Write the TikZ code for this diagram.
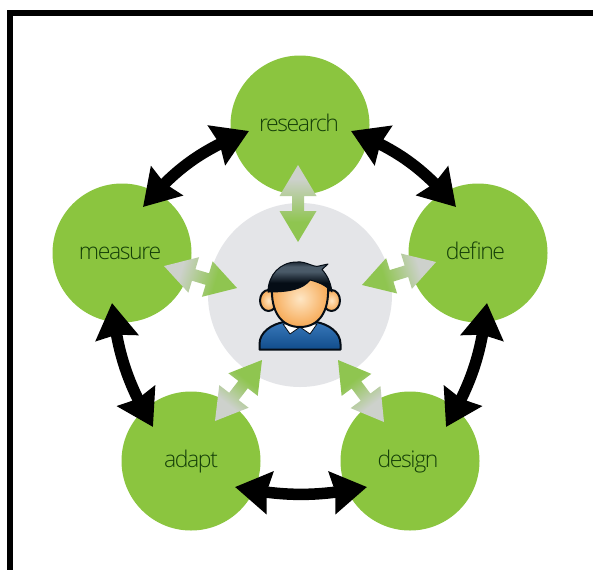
\documentclass[tikz,border=0pt]{standalone}
\usepackage{fontspec}
\setmainfont[UprightFont=* Light,LetterSpace=-6]{Open Sans}
\usetikzlibrary{arrows.meta,calc,bending}
\definecolor{leaf}{HTML}{8BC53F}
\definecolor{hub}{HTML}{E4E5E8}
\definecolor{ink}{HTML}{143F08}
\definecolor{pale}{HTML}{CDD1CC}
\definecolor{mid}{HTML}{8FC550}
\definecolor{skin}{HTML}{F6A955}
\definecolor{skinl}{HTML}{FEE6C4}
\definecolor{navy}{HTML}{050D16}
\definecolor{hairl}{HTML}{4A5A68}
\definecolor{shirt}{HTML}{1560AE}
\pgfdeclarehorizontalshading{palegreen}{100bp}{color(0bp)=(pale); color(34bp)=(pale); color(62bp)=(mid); color(100bp)=(mid)}
\pgfdeclareverticalshading{hairshade}{100bp}{color(0bp)=(navy); color(40bp)=(navy); color(58bp)=(hairl); color(66bp)=(hairl); color(78bp)=(navy); color(100bp)=(navy)}
\tikzset{
  stage/.style={circle,fill=leaf,minimum size=139pt,inner sep=0pt,text=ink,text height=16pt,text depth=3pt,font=\fontsize{23}{23}\selectfont},
  blackarrow/.style={line width=11.5pt,black,{Stealth[length=35pt,width=42pt,inset=3pt,flex]}-{Stealth[length=35pt,width=42pt,inset=3pt,flex]}},
  outline/.style={draw=navy,line width=2pt,line join=round}
}
% #1 outer tip, #2 inner tip, #3 shading direction
\newcommand{\palearrow}[3]{%
  \shade[shading=palegreen,shading angle=#3]
    (#1)
    -- ($(#1)!31pt!(#2)!18.5pt!90:(#2)$)
    -- ($(#1)!31pt!(#2)!6pt!90:(#2)$)
    -- ($(#2)!31pt!(#1)!6pt!-90:(#1)$)
    -- ($(#2)!31pt!(#1)!18.5pt!-90:(#1)$)
    -- (#2)
    -- ($(#2)!31pt!(#1)!18.5pt!90:(#1)$)
    -- ($(#2)!31pt!(#1)!6pt!90:(#1)$)
    -- ($(#1)!31pt!(#2)!6pt!-90:(#2)$)
    -- ($(#1)!31pt!(#2)!18.5pt!-90:(#2)$)
    -- cycle;}
\begin{document}
\begin{tikzpicture}[x=1pt,y=-1pt]
\useasboundingbox (0,0) rectangle (593,570);
\fill[white] (0,0) rectangle (593,570);
% frame
\fill[black] (7,10) rectangle (593,16);
\fill[black] (7,10) rectangle (12.5,570);
% hub and stages
\node[circle,fill=hub,minimum size=184pt,inner sep=0pt] (hub) at (300,295) {};
\node[stage] (research) at (300,125) {research\kern2pt};
\node[stage] (define) at (478,253) {define\kern5pt};
\node[stage] (design) at (410,461) {design\kern4pt};
\node[stage] (adapt) at (191,461) {adapt};
\node[stage] (measure) at (122,253) {measure\kern4pt};
% black connector ends
\coordinate (rm) at (249,131); \coordinate (mr) at (143,207);
\coordinate (rd) at (351,131); \coordinate (dr) at (456,207);
\coordinate (dg) at (487,303); \coordinate (gd) at (446,427);
\coordinate (ga) at (367,487); \coordinate (ag) at (235,487);
\coordinate (am) at (153,427); \coordinate (ma) at (112,303);
\draw[blackarrow] (rm) to[bend right=14] (mr);
\draw[blackarrow] (rd) to[bend left=14] (dr);
\draw[blackarrow] (dg) to[bend left=12] (gd);
\draw[blackarrow] (ga) to[bend left=11] (ag);
\draw[blackarrow] (am) to[bend left=12] (ma);
% pale connector ends
\coordinate (ro) at (298,165); \coordinate (ri) at (298,242);
\coordinate (mo) at (164,266); \coordinate (mi) at (237,288);
\coordinate (do) at (436,262); \coordinate (di) at (362,285);
\coordinate (go) at (384,422); \coordinate (gi) at (338,360);
\coordinate (ao) at (215,421); \coordinate (ai) at (262,360);
\palearrow{ro}{ri}{-90}
\palearrow{mo}{mi}{-17}
\palearrow{do}{di}{197}
\palearrow{go}{gi}{127}
\palearrow{ao}{ai}{52}
% person: shoulders
\draw[outline,top color=shirt!85!white,bottom color=shirt!80!black]
  (259.5,349.5) -- (259.5,344)
  .. controls (259.5,332) and (272,324) .. (284,322)
  -- (316,322)
  .. controls (328,324) and (340.5,332) .. (340.5,344)
  -- (340.5,349.5) -- cycle;
\draw[navy,line width=.8pt,fill=white,line join=round] (283,324) -- (290,334) -- (300,327) -- (310,334) -- (317,324) -- cycle;
% ears
\draw[outline,inner color=skinl,outer color=skin] (268.5,300.5) ellipse [x radius=8.5,y radius=10.5];
\draw[outline,inner color=skinl,outer color=skin] (331.5,300.5) ellipse [x radius=8.5,y radius=10.5];
% face
\draw[outline,inner color=skinl,outer color=skin]
  (272,288) .. controls (271,310) and (280,327) .. (300,327)
  .. controls (320,327) and (329,310) .. (328,288)
  .. controls (326,270) and (274,270) .. (272,288) -- cycle;
% hair
\draw[navy,line width=1pt,line join=round,shading=hairshade]
  (268,292) .. controls (268,275) and (280,262) .. (297,262)
  .. controls (306,261) and (314,268) .. (319,266)
  -- (328,264) -- (322,269.5)
  .. controls (328,276) and (331,284) .. (332,292)
  .. controls (326,285) and (318,282) .. (310,280)
  .. controls (303,289) and (290,292) .. (268,292) -- cycle;
\end{tikzpicture}
\end{document}
